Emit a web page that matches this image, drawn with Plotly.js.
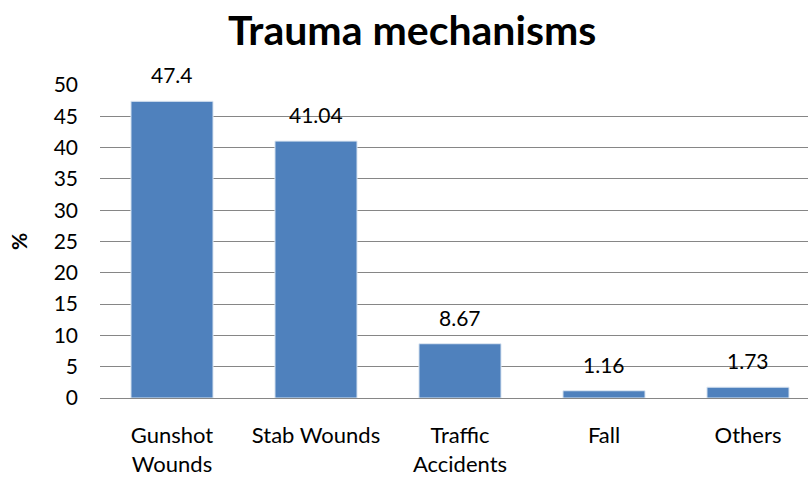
<!DOCTYPE html>
<html>
<head>
<meta charset="utf-8">
<script src="https://cdn.plot.ly/plotly-3.0.1.min.js"></script>
<style>html,body{margin:0;padding:0;background:#fff;}#chart{width:808px;height:478px;}</style>
</head>
<body>
<div id="chart"></div>
<script>
const categories = ["Gunshot<br>Wounds", "Stab Wounds", "Traffic<br>Accidents", "Fall", "Others"];
const values = [47.4, 41.04, 8.67, 1.16, 1.73];
const valueLabels = ["47.4", "41.04", "8.67", "1.16", "1.73"];
const yTicks = [0, 5, 10, 15, 20, 25, 30, 35, 40, 45, 50];

const FONT = "Lato, 'Open Sans', sans-serif";
const xIdx = categories.map((c, i) => i);

const trace = {
  type: "bar",
  x: xIdx,
  y: values,
  cliponaxis: false,
  marker: {color: "#4F81BD", line: {color: "#dfe8f3", width: 1}},
  hoverinfo: "none"
};

const annotations = values.map((v, i) => ({
  x: xIdx[i], y: v, xref: "x", yref: "y",
  text: valueLabels[i], showarrow: false,
  yanchor: "bottom", yshift: 12,
  font: {family: FONT, size: 21, color: "#000"}
}));

const layout = {
  width: 808, height: 478,
  margin: {l: 100, r: 0, t: 85, b: 80},
  paper_bgcolor: "#fff", plot_bgcolor: "#fff",
  showlegend: false,
  bargap: 0.43,
  annotations: annotations,
  title: {text: "<b>Trauma mechanisms</b>", x: 0.51, xanchor: "center", y: 0.935, yanchor: "middle",
          font: {family: FONT, size: 41, color: "#000"}},
  xaxis: {
    range: [-0.5, 4.4167],
    tickmode: "array", tickvals: xIdx, ticktext: categories,
    showgrid: false, showline: false, zeroline: false, ticks: "",
    ticklabelstandoff: 22, automargin: false,
    tickfont: {family: FONT, size: 22, color: "#000"}
  },
  yaxis: {
    range: [0, 50], tickmode: "array", tickvals: yTicks,
    showgrid: true, gridcolor: "#868686", gridwidth: 1,
    zeroline: true, zerolinecolor: "#868686", zerolinewidth: 1,
    showline: false, ticks: "",
    ticklabelstandoff: 21, automargin: true,
    tickfont: {family: FONT, size: 21, color: "#000"},
    title: {text: "<b>%</b>", standoff: 20, font: {family: FONT, size: 21, color: "#000"}}
  }
};

Plotly.newPlot("chart", [trace], layout, {staticPlot: true, displayModeBar: false});
</script>
</body>
</html>
